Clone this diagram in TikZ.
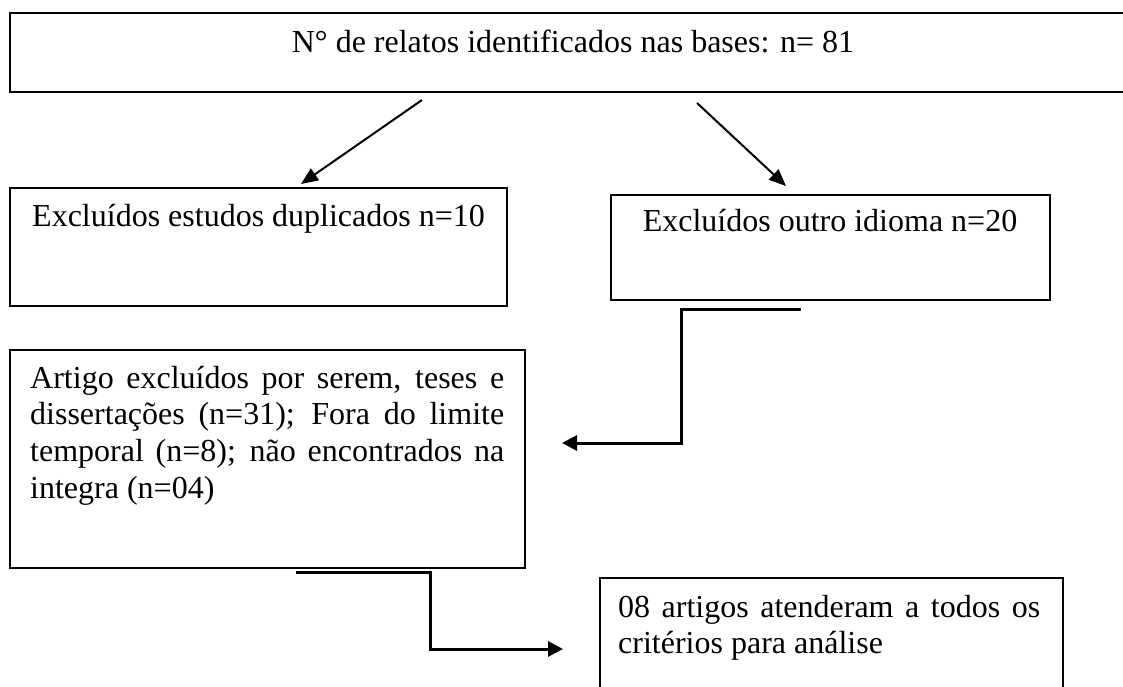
\documentclass[tikz,border=0pt]{standalone}
\usepackage{fontspec}
\setmainfont{Liberation Serif}
\usetikzlibrary{arrows.meta}
\begin{document}
\begin{tikzpicture}[x=1pt,y=-1pt,
  box/.style={draw, line width=1.6pt, inner sep=0pt, anchor=north west},
  txt/.style={inner sep=0pt, font=\fontsize{32}{36.8}\selectfont},
  jtxt/.style={txt, anchor=base west, align=justify,
    execute at begin node={\hyphenpenalty=10000\exhyphenpenalty=10000}},
  slant/.style={line width=2pt, -{Triangle[length=17pt,width=14pt]}},
  elbow/.style={line width=3pt, -{Triangle[length=15pt,width=15pt]}}]
\useasboundingbox (0,0) rectangle (1123,687);
% boxes
\node[box, line width=2.2pt, minimum width=1128pt, minimum height=79pt] (top) at (9,12) {};
\node[box, minimum width=497pt, minimum height=118pt] (dup) at (9,187) {};
\node[box, minimum width=439pt, minimum height=105pt] (lang) at (610,194) {};
\node[box, minimum width=515pt, minimum height=218pt] (excl) at (9,349) {};
\node[box, minimum width=463pt, minimum height=140pt] (final) at (599,577) {};
% texts
\node[txt, anchor=base] (ttop) at (573,53) {N° de relatos identificados nas bases: n= 81};
\node[txt, anchor=base west] (tdup) at (32,226) {Excluídos estudos duplicados n=10};
\node[txt, anchor=base] (tlang) at (830,231) {Excluídos outro idioma n=20};
\node[jtxt, text width=474pt] (texcl) at (30,388)
  {Artigo excluídos por serem, teses e\linebreak dissertações (n=31); Fora do limite\linebreak temporal (n=8); não encontrados na\linebreak integra (n=04)};
\node[jtxt, text width=422pt] (tfinal) at (618,617)
  {08 artigos atenderam a todos os\linebreak critérios para análise};
% connectors
\coordinate (a1s) at (422,100);
\coordinate (a1e) at (301,184);
\coordinate (a2s) at (697,103);
\coordinate (a2e) at (786,186);
\draw[slant] (a1s) -- (a1e);
\draw[slant] (a2s) -- (a2e);
\coordinate (c1s) at (801,309);
\coordinate (c1a) at (681,309);
\coordinate (c1b) at (681,443);
\coordinate (c1e) at (562,443);
\draw[elbow] (c1s) -- (c1a) -- (c1b) -- (c1e);
\coordinate (c2s) at (296,572);
\coordinate (c2a) at (430,572);
\coordinate (c2b) at (430,649);
\coordinate (c2e) at (563,649);
\draw[elbow] (c2s) -- (c2a) -- (c2b) -- (c2e);
\end{tikzpicture}
\end{document}
